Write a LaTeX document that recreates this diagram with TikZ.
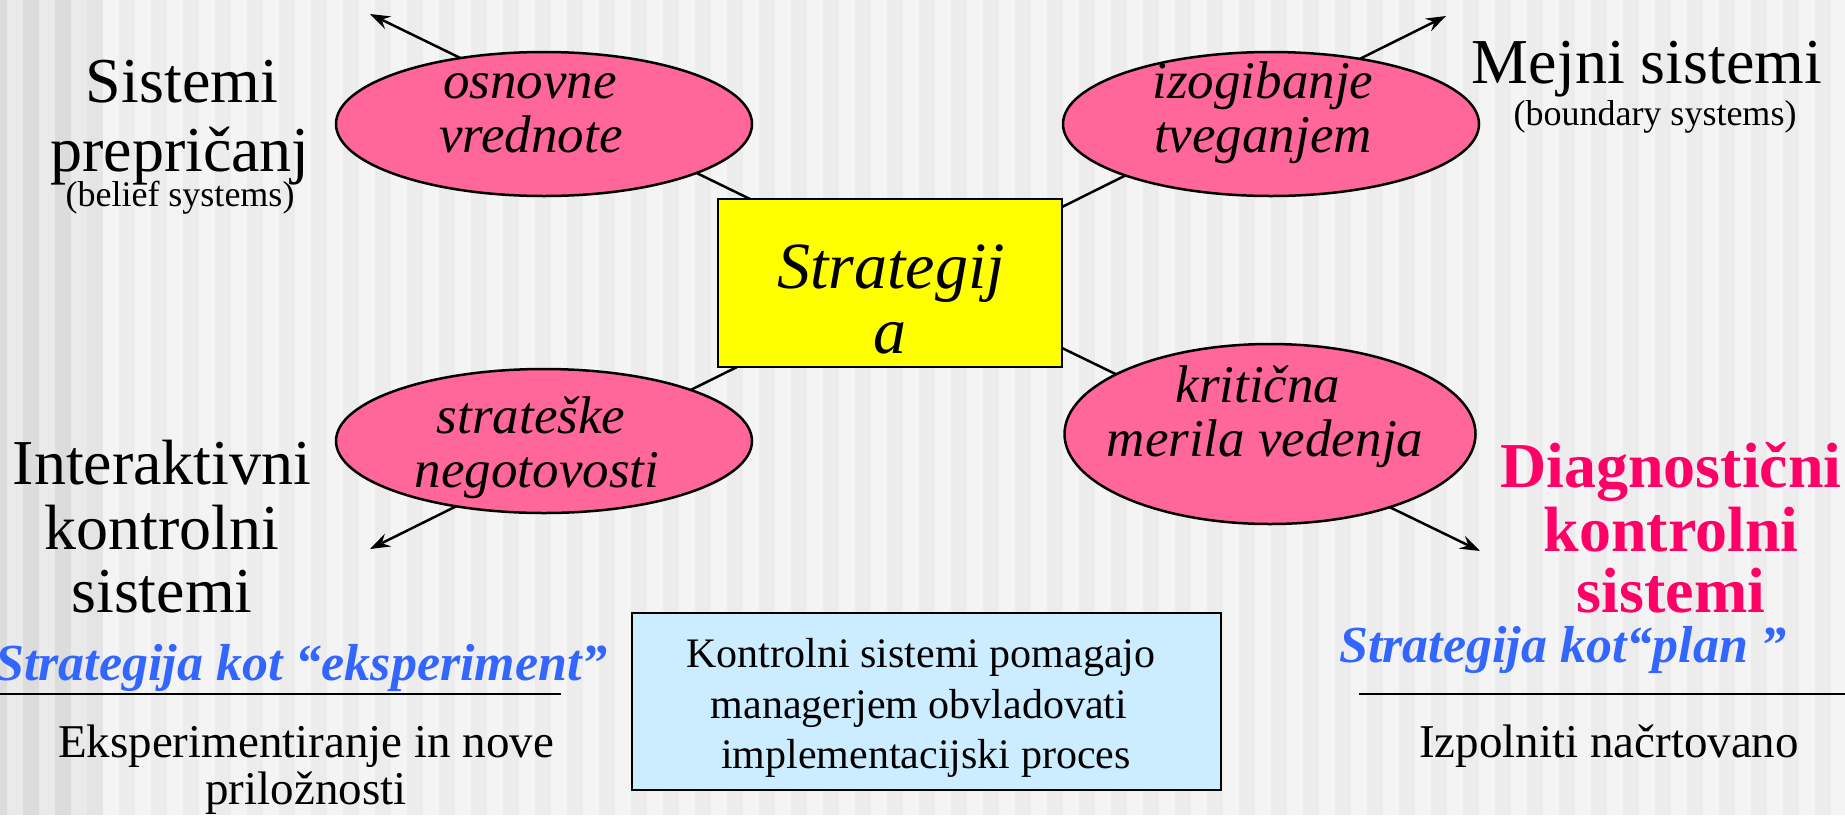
\documentclass[tikz,border=0pt]{standalone}
\usepackage{fontspec}
\setmainfont{Liberation Serif}
\usetikzlibrary{shapes.geometric,arrows.meta}

\definecolor{stripeA}{HTML}{F4F4F4}
\definecolor{stripeB}{HTML}{ECECEC}
\definecolor{edgeA}{HTML}{EAEAEA}
\definecolor{edgeB}{HTML}{DCDCDC}
\definecolor{edgeC}{HTML}{E4E4E4}
\definecolor{bubblepink}{HTML}{FF6699}
\definecolor{coreyellow}{HTML}{FFFF00}
\definecolor{notebox}{HTML}{CCECFF}
\definecolor{diagred}{HTML}{FF0066}
\definecolor{planblue}{HTML}{3366FF}

\newcommand{\fsz}[2]{\fontsize{#1}{#2}\selectfont}

\begin{document}
\begin{tikzpicture}[x=1pt,y=-1pt,
  bubble/.style={ellipse, draw=black, line width=2.5pt, fill=bubblepink, inner sep=0pt},
  bubbletext/.style={font=\fsz{53}{53}\itshape, inner sep=0pt, anchor=base},
  coretext/.style={font=\fsz{66}{66}\itshape, inner sep=0pt, anchor=base},
  bigtext/.style={font=\fsz{64}{64}, inner sep=0pt, anchor=base},
  diagtext/.style={font=\fsz{64}{64}\bfseries, text=diagred, inner sep=0pt, anchor=base},
  smalltext/.style={font=\fsz{36}{36}, inner sep=0pt, anchor=base},
  modetext/.style={font=\fsz{52}{52}\bfseries\itshape, text=planblue, inner sep=0pt, anchor=base},
  bodytext/.style={font=\fsz{47}{47}, inner sep=0pt, anchor=base},
  notetext/.style={font=\fsz{42}{42}, inner sep=0pt, anchor=base},
  spoke/.style={line width=2.5pt, -{Stealth[length=20pt,width=14pt,inset=7pt]}},
  rule/.style={line width=2pt},
]
\useasboundingbox (0,0) rectangle (1845,815);

% striped backdrop, darker towards the left edge
\fill[stripeA] (0,0) rectangle (1845,815);
\foreach \i in {0,...,57} {
  \fill[stripeB] ({23.3+32*\i},0) rectangle ({39.3+32*\i},815);
}
\fill[edgeA] (0,0) rectangle (87.3,815);
\fill[edgeB] (0,0) rectangle (7.3,815);
\fill[edgeB] (23.3,0) rectangle (39.3,815);
\fill[edgeB] (55.3,0) rectangle (71.3,815);
\fill[edgeC] (87.3,0) rectangle (103.3,815);

% central box and the points where the spokes leave it
\node[draw=black, line width=2pt, fill=coreyellow, minimum width=344pt, minimum height=168pt, inner sep=0pt] (core) at (890,283) {};
\coordinate (s1) at (750,199);
\coordinate (s2) at (1062,207);
\coordinate (s3) at (737,367);
\coordinate (s4) at (1062,348);
\coordinate (t1) at (370,14);
\coordinate (t2) at (1446,16);
\coordinate (t3) at (370,549);
\coordinate (t4) at (1480,551);

% spokes (the bubbles are laid over them)
\draw[spoke] (s1) -- (t1);
\draw[spoke] (s2) -- (t2);
\draw[spoke] (s3) -- (t3);
\draw[spoke] (s4) -- (t4);

% redraw the box over the spoke ends
\node[draw=black, line width=2pt, fill=coreyellow, minimum width=344pt, minimum height=168pt, inner sep=0pt] (corefront) at (core) {};
\node[coretext] (corea) at (891,288) {Strategij};
\node[coretext] (coreb) at (890,353) {a};

% bubbles
\node[bubble, minimum width=416pt, minimum height=144pt] (b1) at (544,124) {};
\node[bubbletext] (b1a) at (530,98) {osnovne};
\node[bubbletext] (b1b) at (531,152) {vrednote};

\node[bubble, minimum width=416pt, minimum height=144pt] (b2) at (1271,124) {};
\node[bubbletext] (b2a) at (1263,98) {izogibanje};
\node[bubbletext] (b2b) at (1263,152) {tveganjem};

\node[bubble, minimum width=416pt, minimum height=144pt] (b3) at (544,441) {};
\node[bubbletext] (b3a) at (531,433) {strateške};
\node[bubbletext] (b3b) at (537,487) {negotovosti};

\node[bubble, minimum width=411pt, minimum height=180pt] (b4) at (1270,434) {};
\node[bubbletext] (b4a) at (1258,402) {kritična};
\node[bubbletext] (b4b) at (1265,456) {merila vedenja};

% belief systems
\node[bigtext] (bel1) at (182,102) {Sistemi};
\node[bigtext] (bel2) at (180,171) {prepričanj};
\node[smalltext] (bel3) at (180,206) {(belief systems)};

% boundary systems
\node[bigtext] (bnd1) at (1647,83) {Mejni sistemi};
\node[smalltext] (bnd2) at (1655,125) {(boundary systems)};

% interactive control systems
\node[bigtext] (int1) at (162,484) {Interaktivni};
\node[bigtext] (int2) at (162,549) {kontrolni};
\node[bigtext] (int3) at (162,612) {sistemi};
\node[modetext, anchor=base east] (int4) at (608,680) {Strategija kot “eksperiment”};
\draw[rule] (0,694) -- (561,694);
\node[bodytext] (int5) at (306,757) {Eksperimentiranje in nove};
\node[bodytext] (int6) at (306,804) {priložnosti};

% diagnostic control systems
\node[diagtext] (dia1) at (1671,487) {Diagnostični};
\node[diagtext] (dia2) at (1671,551) {kontrolni};
\node[diagtext] (dia3) at (1671,612) {sistemi};
\node[modetext] (dia4) at (1563,662) {Strategija kot“plan ”};
\draw[rule] (1359,694) -- (1845,694);
\node[bodytext] (dia5) at (1609,757) {Izpolniti načrtovano};

% note box
\node[draw=black, line width=2pt, fill=notebox, minimum width=589pt, minimum height=177pt, inner sep=0pt] (note) at (926.5,701.5) {};
\node[notetext] (note1) at (921,667) {Kontrolni sistemi pomagajo};
\node[notetext] (note2) at (919,718) {managerjem obvladovati};
\node[notetext] (note3) at (926,768) {implementacijski proces};
\end{tikzpicture}
\end{document}
